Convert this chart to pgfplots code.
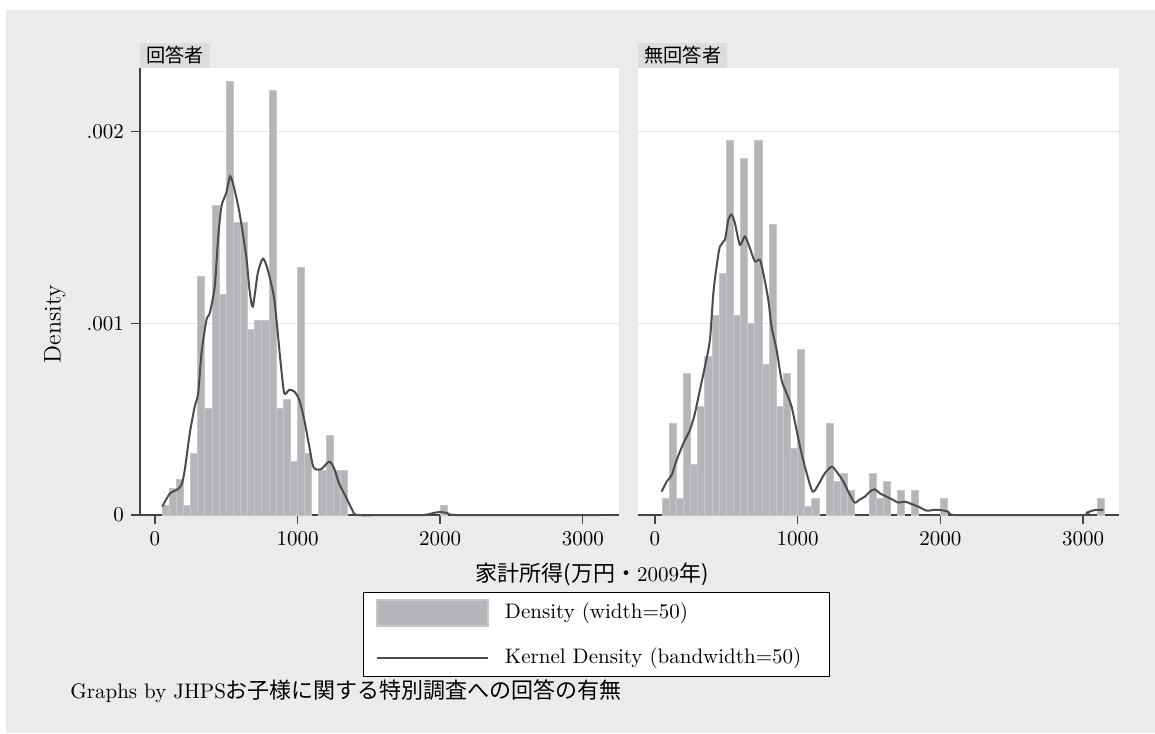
\documentclass[border=0pt]{standalone}
\usepackage{pgfplots}
\pgfplotsset{compat=1.18}
\usepackage{fontspec}
\newfontfamily\jp{Noto Sans CJK JP}

\definecolor{bg}{HTML}{EAEBED}
\definecolor{strip}{HTML}{DCDDDF}
\definecolor{barfill}{HTML}{B4B5B9}
\definecolor{baredge}{HTML}{C6C7CA}
\definecolor{kd}{HTML}{4C4C4C}
\definecolor{axisc}{HTML}{444444}
\definecolor{gridc}{HTML}{E6E6E8}

\pgfplotsset{
  panel/.style={
    scale only axis, anchor=south west, height=223.5pt,
    ymin=0, ymax=0.002332,
    axis x line*=bottom, axis y line*=left,
    tick align=outside, major tick length=4.5pt,
    tick style={axisc, line width=0.7pt},
    axis line style={axisc, line width=0.75pt},
    xtick={0,1000,2000,3000}, xticklabels={0,1000,2000,3000},
    ytick={0,0.001,0.002},
    ymajorgrids, grid style={gridc, line width=0.6pt},
    axis background/.style={fill=white},
    tick label style={font=\fontsize{10.5}{12}\selectfont},
    /pgf/number format/assume math mode=true,
    scaled y ticks=false, clip=false,
  },
  hist/.style={ybar, bar width=50, bar shift=0pt, fill=barfill, draw=baredge, line width=0.5pt},
  kern/.style={kd, line width=1pt, smooth, tension=0.45, mark=none},
}

\begin{document}
\begin{tikzpicture}
\fill[white] (0pt,0pt) rectangle (577.5pt,-366.5pt);
\fill[bg] (3pt,-5pt) rectangle (577.5pt,-366.5pt);

% 回答者
\begin{axis}[panel, at={(70pt,-257.5pt)}, width=239.5pt,
  xmin=-105, xmax=3254,
  yticklabels={0,.001,.002},
  legend style={at={(0.953,-0.1723)}, anchor=north, draw=black, line width=0.5pt,
    fill=white, inner xsep=6pt, inner ysep=3pt, row sep=9pt,
    font=\fontsize{10.5}{12}\selectfont,
    nodes={inner sep=0pt, text width=156pt, anchor=west},
    /tikz/every odd column/.append style={column sep=8pt}},
  legend cell align=left]
\addplot[hist, legend image code/.code={\draw[fill=barfill, draw=baredge, line width=1pt] (0pt,-6.5pt) rectangle (55.5pt,6.5pt);}]
  coordinates {
  (75,0.000047) (125,0.000136) (175,0.000186) (225,0.000047) (275,0.000322)
  (325,0.001245) (375,0.000555) (425,0.001615) (475,0.001152) (525,0.002263)
  (575,0.001525) (625,0.001525) (675,0.00097) (725,0.001017) (775,0.001017)
  (825,0.002216) (875,0.000555) (925,0.0006) (975,0.000277) (1025,0.001293)
  (1075,0.000322) (1175,0.000232) (1225,0.000416) (1275,0.000232) (1325,0.000232)
  (2025,0.000047)};
\addlegendentry{Density (width=50)}
\addplot[kern, legend image code/.code={\path[draw=none,fill=none] (0pt,-6.5pt) rectangle (55.5pt,6.5pt); \draw[kd, line width=1pt] (0pt,0pt) -- (55.5pt,0pt);}]
  coordinates {
  (51,0.0000435) (105,0.000113) (151,0.00013) (186,0.000157) (209,0.000235)
  (244,0.000426) (279,0.000566) (303,0.000635) (326,0.000844) (361,0.001018)
  (384,0.001053) (419,0.001192) (442,0.001436) (466,0.00161) (500,0.00168)
  (528,0.001767) (558,0.001697) (593,0.001575) (640,0.001349) (663,0.001175)
  (686,0.001088) (721,0.001262) (756,0.001337) (784,0.001297) (814,0.00121)
  (837,0.001123) (861,0.000949) (884,0.000775) (907,0.000635) (942,0.000653)
  (977,0.000644) (1012,0.0006) (1047,0.000496) (1082,0.000357) (1112,0.000249)
  (1163,0.000238) (1221,0.000278) (1256,0.000244) (1291,0.000165) (1338,0.0000957)
  (1384,0.000026) (1419,0) (1650,0) (1880,0) (1950,0.00001) (2000,0.000016)
  (2050,0.00001) (2110,0) (2600,0) (3130,0)};
\addlegendentry{Kernel Density (bandwidth=50)}
\end{axis}

% 無回答者
\begin{axis}[panel, at={(319pt,-257.5pt)}, width=240.5pt,
  xmin=-119, xmax=3252,
  yticklabels={}, y axis line style={draw=none}, ytick style={draw=none}]
\addplot[hist] coordinates {
  (75,0.000087) (125,0.000479) (175,0.000087) (225,0.000736) (275,0.000261)
  (325,0.000566) (375,0.000827) (425,0.001041) (475,0.001258) (525,0.001953)
  (575,0.001041) (625,0.001862) (675,0.001001) (725,0.001953) (775,0.000783)
  (825,0.001518) (875,0.000566) (925,0.000736) (975,0.000348) (1025,0.000865)
  (1075,0.0000435) (1125,0.000087) (1225,0.000479) (1275,0.000174) (1325,0.000218)
  (1375,0.00013) (1525,0.000218) (1575,0.000087) (1625,0.000174) (1725,0.00013)
  (1825,0.00013) (2025,0.000087) (3125,0.000087)};
\addplot[kern] coordinates {
  (47,0.000122) (82,0.000174) (117,0.000209) (152,0.000287) (199,0.000374)
  (245,0.000444) (280,0.000531) (315,0.000653) (350,0.000775) (385,0.000914)
  (409,0.001158) (432,0.001297) (455,0.001401) (490,0.001436) (514,0.00154)
  (537,0.001567) (560,0.001523) (595,0.00141) (630,0.001453) (665,0.001393)
  (700,0.001323) (735,0.001332) (759,0.001262) (794,0.001123) (817,0.000983)
  (852,0.000862) (887,0.000705) (922,0.000635) (957,0.000566) (992,0.000444)
  (1027,0.000322) (1063,0.000218) (1105,0.000122) (1144,0.000157) (1191,0.000218)
  (1238,0.000252) (1273,0.000226) (1320,0.000174) (1366,0.000105) (1401,0.0000644)
  (1436,0.0000818) (1471,0.0000957) (1506,0.000122) (1541,0.000134) (1576,0.000113)
  (1623,0.0000957) (1670,0.0000783) (1705,0.0000644) (1752,0.0000696) (1798,0.0000574)
  (1856,0.00004) (1903,0.0000226) (1950,0.0000261) (1997,0.0000261) (2055,0.0000174)
  (2102,0) (2500,0) (3002,0) (3026,0.0000122) (3084,0.0000261) (3143,0.0000261)};
\end{axis}

\node[fill=strip, anchor=south west, inner xsep=3pt, inner ysep=0pt, minimum height=12.5pt,
  font=\jp\fontsize{9.6}{10}\selectfont] at (70pt,-34pt) {回答者};
\node[fill=strip, anchor=south west, inner xsep=3pt, inner ysep=0pt, minimum height=12.5pt,
  font=\jp\fontsize{9.6}{10}\selectfont] at (319pt,-34pt) {無回答者};

\node[rotate=90, font=\fontsize{12}{14}\selectfont] at (27.5pt,-162pt) {Density};
\node[font=\fontsize{10.5}{12}\selectfont] at (296pt,-287pt)
  {{\jp\fontsize{11}{12}\selectfont 家計所得(万円・}2009{\jp\fontsize{11}{12}\selectfont 年)}};
\node[anchor=west, inner sep=0pt, font=\fontsize{10.5}{12}\selectfont] at (35pt,-345.5pt)
  {Graphs by JHPS{\jp\fontsize{11}{12}\selectfont お子様に関する特別調査への回答の有無}};
\end{tikzpicture}
\end{document}
